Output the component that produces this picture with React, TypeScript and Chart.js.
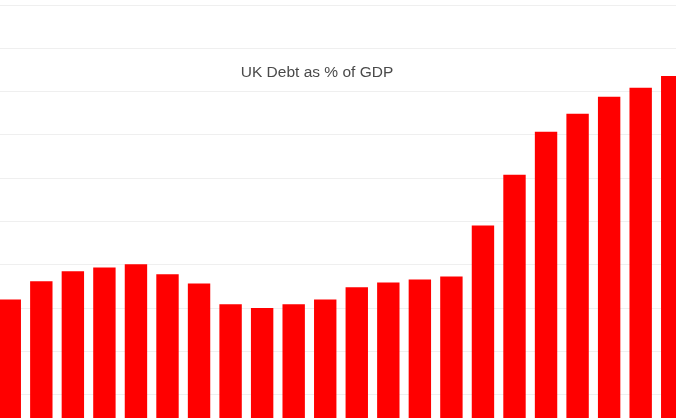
import { useEffect, useRef } from 'react'
import { Chart, registerables, Plugin } from 'chart.js'

Chart.register(...registerables)

// fiscal years shown (axis itself sits outside the cropped view)
const years = [
  '1993', '1994', '1995', '1996', '1997', '1998', '1999', '2000', '2001', '2002', '2003',
  '2004', '2005', '2006', '2007', '2008', '2009', '2010', '2011', '2012', '2013', '2014',
]

// debt as % of GDP
const debtPct = [
  32.0, 36.2, 38.5, 39.4, 40.1, 37.8, 35.7, 30.9, 30.0, 30.9, 32.0,
  34.8, 35.9, 36.6, 37.3, 49.1, 60.8, 70.7, 74.9, 78.8, 80.9, 83.6,
]

const titleText = 'UK Debt as % of GDP'

// title sits inside the plot, between the gridlines
const insideTitle: Plugin<'bar'> = {
  id: 'insideTitle',
  afterDraw(chart) {
    const { ctx, chartArea } = chart
    ctx.save()
    ctx.font = '15.5px "Liberation Sans", Arial, sans-serif'
    ctx.fillStyle = '#4a4a4a'
    ctx.textAlign = 'center'
    ctx.textBaseline = 'middle'
    ctx.fillText(titleText, chartArea.left + 323, 73)
    ctx.restore()
  },
}

export default function App() {
  const canvasRef = useRef<HTMLCanvasElement>(null)

  useEffect(() => {
    if (!canvasRef.current) return
    const chart = new Chart(canvasRef.current, {
      type: 'bar',
      data: {
        labels: years,
        datasets: [
          {
            label: titleText,
            data: debtPct,
            backgroundColor: '#ff0000',
            borderWidth: 0,
            barPercentage: 0.71,
            categoryPercentage: 1,
          },
        ],
      },
      options: {
        responsive: false,
        animation: false,
        devicePixelRatio: 1,
        layout: { padding: { left: 14, right: 12, top: 5, bottom: 22 } },
        plugins: { legend: { display: false }, tooltip: { enabled: false } },
        scales: {
          x: { display: false },
          y: {
            min: 0,
            max: 100,
            ticks: { display: false, stepSize: 10 },
            border: { display: false },
            grid: { drawTicks: false, color: '#efefef' },
            afterFit(scale) {
              scale.width = 0
            },
          },
        },
      },
      plugins: [insideTitle],
    })
    return () => chart.destroy()
  }, [])

  return (
    <div style={{ position: 'fixed', left: 0, top: 0, width: 676, height: 418, overflow: 'hidden', background: '#fff' }}>
      <canvas ref={canvasRef} width={720} height={460} style={{ position: 'absolute', left: -20, top: 0 }} />
    </div>
  )
}
